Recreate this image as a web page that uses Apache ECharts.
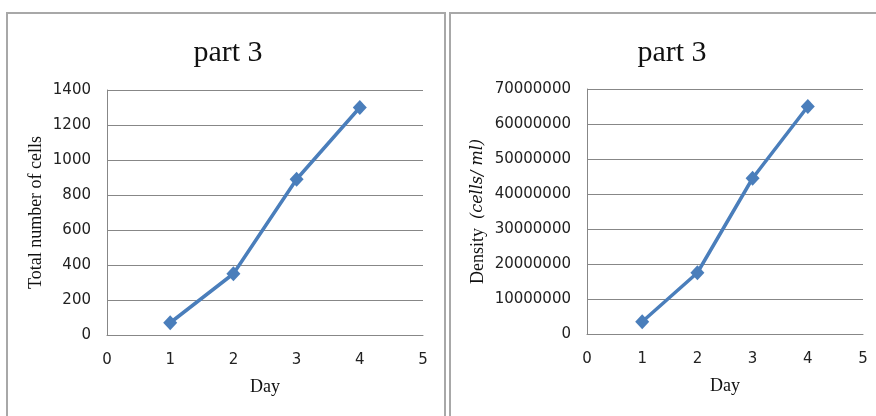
<!DOCTYPE html>
<html>
<head>
<meta charset="utf-8">
<script src="https://cdn.jsdelivr.net/npm/echarts@6/dist/echarts.min.js"></script>
<style>
  html, body { margin: 0; padding: 0; background: #fff; }
  #chart { width: 876px; height: 416px; }
</style>
</head>
<body>
<div id="chart"></div>
<script>
// Cell culture growth, part 3
const days = [1, 2, 3, 4];
const totalCells = [70, 350, 890, 1300];
const densityCellsPerMl = [3500000, 17500000, 44500000, 65000000];
const dayTicks = [0, 1, 2, 3, 4, 5];
const totalTicks = [0, 200, 400, 600, 800, 1000, 1200, 1400];
const densityTicks = [0, 10000000, 20000000, 30000000, 40000000, 50000000, 60000000, 70000000];

const LINE = '#4a7ebb';
const GRID = '#878787';
const TICK_FONT = '"DejaVu Sans", sans-serif';
const SERIF = '"Liberation Serif", "Times New Roman", serif';

function pairs(xs, ys) { return xs.map((x, i) => [x, ys[i]]); }

function xAxisFor(gridIndex) {
  return {
    gridIndex, type: 'value',
    min: dayTicks[0], max: dayTicks[dayTicks.length - 1], interval: 1,
    name: 'Day', nameLocation: 'middle', nameGap: 43,
    nameTextStyle: { fontFamily: SERIF, fontSize: 18, color: '#111' },
    axisLine: { show: true, onZero: false, lineStyle: { color: GRID, width: 1 } },
    axisTick: { show: false },
    splitLine: { show: false },
    axisLabel: { margin: 18, fontFamily: TICK_FONT, fontSize: 15, color: '#222',
      formatter: v => String(v) }
  };
}

function yAxisFor(gridIndex, ticks, name, nameGap, richName) {
  const step = ticks[1] - ticks[0];
  const ax = {
    gridIndex, type: 'value',
    min: ticks[0], max: ticks[ticks.length - 1], interval: step,
    name, nameLocation: 'middle', nameGap, nameRotate: 90,
    nameTextStyle: { fontFamily: SERIF, fontSize: 18, color: '#111' },
    axisLine: { show: true, lineStyle: { color: GRID, width: 1 } },
    axisTick: { show: false },
    splitLine: { show: true, lineStyle: { color: GRID, width: 1 } },
    axisLabel: { margin: 16, fontFamily: TICK_FONT, fontSize: 15, color: '#222',
      formatter: v => String(v) }
  };
  if (richName) {
    ax.nameTextStyle.rich = richName;
  }
  return ax;
}

function lineSeries(idx, data) {
  return {
    type: 'line', xAxisIndex: idx, yAxisIndex: idx,
    data,
    symbol: 'diamond', symbolSize: [14, 15],
    lineStyle: { color: LINE, width: 3.5 },
    itemStyle: { color: LINE },
    emphasis: { disabled: true },
    animation: false
  };
}

const chart = echarts.init(document.getElementById('chart'), null, { renderer: 'canvas' });
chart.setOption({
  backgroundColor: '#fff',
  animation: false,
  title: [
    { text: 'part 3', left: 223, top: 33, textAlign: 'center',
      textStyle: { fontFamily: SERIF, fontSize: 30, fontWeight: 'normal', color: '#111' } },
    { text: 'part 3', left: 667, top: 33, textAlign: 'center',
      textStyle: { fontFamily: SERIF, fontSize: 30, fontWeight: 'normal', color: '#111' } }
  ],
  grid: [
    { left: 107, top: 90, width: 316, height: 245 },
    { left: 587, top: 89, width: 276, height: 245 }
  ],
  xAxis: [xAxisFor(0), xAxisFor(1)],
  yAxis: [
    yAxisFor(0, totalTicks, 'Total number of cells', 62),
    yAxisFor(1, densityTicks, '{a|Density  }{b|(cells/ ml)}', 100, {
      a: { fontFamily: SERIF, fontSize: 18, color: '#111' },
      b: { fontFamily: '"DejaVu Serif", serif', fontStyle: 'italic', fontSize: 16, color: '#111' }
    })
  ],
  series: [
    lineSeries(0, pairs(days, totalCells)),
    lineSeries(1, pairs(days, densityCellsPerMl))
  ],
  graphic: [
    { type: 'rect', shape: { x: 7, y: 13, width: 438, height: 420 },
      style: { fill: 'none', stroke: '#a8a8a8', lineWidth: 2 }, silent: true },
    { type: 'rect', shape: { x: 450, y: 13, width: 440, height: 420 },
      style: { fill: 'none', stroke: '#a8a8a8', lineWidth: 2 }, silent: true }
  ]
});
</script>
</body>
</html>
